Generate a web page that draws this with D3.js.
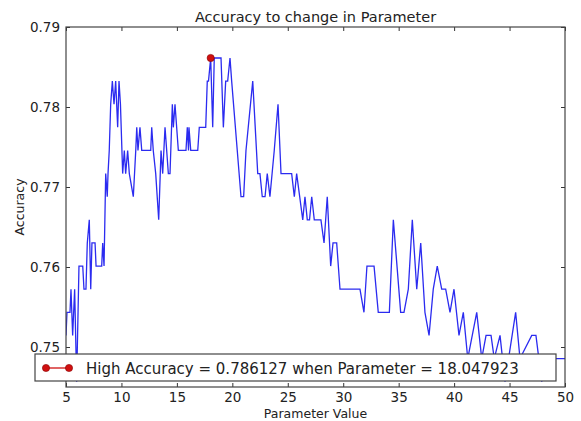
<!DOCTYPE html>
<html>
<head>
<meta charset="utf-8">
<script src="https://cdn.jsdelivr.net/npm/d3@7"></script>
<style>
  body { margin: 0; background: #fff; }
  text { font-family: "DejaVu Sans", sans-serif; fill: #222; }
</style>
</head>
<body>
<script>
// parameter values and the accuracy measured at each one
var params = [5.00, 5.09, 5.36, 5.45, 5.60, 5.78, 5.96, 6.17, 6.51, 6.62, 6.80, 6.92, 7.10, 7.23, 7.34, 7.62,
  7.71, 8.22, 8.31, 8.43, 8.58, 8.72, 8.79, 8.90, 9.03, 9.18, 9.33, 9.48, 9.66, 9.78, 9.91, 10.11,
  10.26, 10.38, 10.56, 10.71, 11.07, 11.29, 11.38, 11.49, 11.67, 11.83, 12.64, 12.73, 12.87, 13.09,
  13.36, 13.57, 13.72, 13.93, 14.23, 14.38, 14.59, 14.68, 14.83, 15.13, 15.82, 15.94, 16.05, 16.09,
  16.25, 16.88, 17.02, 17.60, 17.74, 17.85, 18.047923, 18.23, 18.37, 18.98, 19.19, 19.40, 19.58, 19.79,
  19.94, 20.78, 21.02, 21.23, 21.84, 22.29, 22.49, 22.70, 22.95, 23.15, 23.39, 23.78, 24.12, 24.39,
  25.35, 25.59, 25.80, 26.35, 26.55, 26.76, 26.96, 27.16, 27.39, 27.99, 28.27, 28.56, 28.87, 29.08,
  29.41, 29.71, 31.51, 31.87, 32.14, 32.78, 33.16, 34.16, 34.52, 35.18, 35.48, 35.87, 36.23, 36.63,
  36.99, 37.37, 37.74, 38.12, 38.48, 38.88, 39.24, 39.63, 39.99, 40.44, 40.83, 41.23, 42.04, 42.49,
  42.88, 43.33, 43.62, 44.14, 44.59, 45.55, 45.94, 47.00, 47.38, 47.90, 48.47, 50.00];

var accuracy = [0.751445, 0.754335, 0.754335, 0.757225, 0.751445, 0.757225, 0.745665, 0.760116, 0.760116, 0.757225, 0.757225, 0.763006, 0.765896, 0.757225, 0.763006, 0.763006,
  0.760116, 0.760116, 0.763006, 0.760116, 0.771676, 0.768786, 0.771676, 0.774566, 0.780347, 0.783237, 0.780347, 0.783237, 0.777457, 0.783237, 0.780347, 0.771676,
  0.774566, 0.771676, 0.774566, 0.771676, 0.768786, 0.774566, 0.777457, 0.774566, 0.777457, 0.774566, 0.774566, 0.777457, 0.774566, 0.771676,
  0.765896, 0.774566, 0.771676, 0.777457, 0.771676, 0.771676, 0.780347, 0.777457, 0.780347, 0.774566, 0.774566, 0.777457, 0.774566, 0.777457,
  0.774566, 0.774566, 0.777457, 0.777457, 0.783237, 0.783237, 0.786127, 0.777457, 0.786127, 0.786127, 0.777457, 0.783237, 0.783237, 0.786127,
  0.783237, 0.768786, 0.768786, 0.774566, 0.783237, 0.771676, 0.771676, 0.768786, 0.768786, 0.771676, 0.768786, 0.774566, 0.780347, 0.771676,
  0.771676, 0.768786, 0.771676, 0.765896, 0.768786, 0.765896, 0.765896, 0.768786, 0.765896, 0.765896, 0.763006, 0.768786, 0.760116, 0.763006,
  0.763006, 0.757225, 0.757225, 0.754335, 0.760116, 0.760116, 0.754335, 0.754335, 0.765896, 0.754335, 0.754335, 0.757225, 0.765896, 0.757225,
  0.763006, 0.754335, 0.751445, 0.757225, 0.760116, 0.757225, 0.757225, 0.754335, 0.757225, 0.751445, 0.754335, 0.748555, 0.754335, 0.748555,
  0.751445, 0.751445, 0.748555, 0.751445, 0.745665, 0.754335, 0.748555, 0.751445, 0.751445, 0.745665, 0.748555, 0.748555];

var bestParam = 18.047923;
var bestAccuracy = 0.786127;

var xTicks = [5, 10, 15, 20, 25, 30, 35, 40, 45, 50];
var yTicks = [0.75, 0.76, 0.77, 0.78, 0.79];

var W = 581, H = 421;
var margin = {top: 27, right: 16, bottom: 34, left: 66};
var iw = W - margin.left - margin.right, ih = H - margin.top - margin.bottom;

var svg = d3.select('body').append('svg')
  .attr('width', W)
  .attr('height', H);

var x = d3.scaleLinear().domain([5, 50]).range([0, iw]);
var y = d3.scaleLinear().domain([0.745, 0.79]).range([ih, 0]);

var g = svg.append('g').attr('transform', 'translate(' + margin.left + ',' + margin.top + ')');

var data = params.map(function(p, i) { return {p: p, a: accuracy[i]}; });

g.append('clipPath').attr('id', 'clip')
  .append('rect').attr('width', iw).attr('height', ih);

var line = d3.line()
  .x(function(d) { return x(d.p); })
  .y(function(d) { return y(d.a); });

g.append('path')
  .datum(data)
  .attr('clip-path', 'url(#clip)')
  .attr('d', line)
  .attr('fill', 'none')
  .attr('stroke', '#2b2bf0')
  .attr('stroke-width', 1.3);

g.append('circle')
  .attr('cx', x(bestParam))
  .attr('cy', y(bestAccuracy))
  .attr('r', 3.6)
  .attr('fill', '#d01010')
  .attr('stroke', '#8a0000')
  .attr('stroke-width', 0.6);

// frame with inward ticks on all four sides
var fmt = function(d) { return d; };
var axisB = d3.axisBottom(x).tickValues(xTicks).tickSizeInner(-4).tickSizeOuter(0).tickPadding(5).tickFormat(fmt);
var axisT = d3.axisTop(x).tickValues(xTicks).tickSizeInner(-4).tickSizeOuter(0).tickFormat('');
var axisL = d3.axisLeft(y).tickValues(yTicks).tickSizeInner(-4).tickSizeOuter(0).tickPadding(6).tickFormat(d3.format('.2f'));
var axisR = d3.axisRight(y).tickValues(yTicks).tickSizeInner(-4).tickSizeOuter(0).tickFormat('');

g.append('g').attr('transform', 'translate(0,' + ih + ')').call(axisB);
g.append('g').call(axisT);
g.append('g').call(axisL);
g.append('g').attr('transform', 'translate(' + iw + ',0)').call(axisR);

g.selectAll('.domain').remove();
g.selectAll('.tick line').attr('stroke', '#333');
g.selectAll('.tick text').style('font-family', '"DejaVu Sans", sans-serif').style('font-size', '13.5px').attr('fill', '#333');

g.append('rect')
  .attr('width', iw).attr('height', ih)
  .attr('fill', 'none').attr('stroke', '#444').attr('stroke-width', 1.2);

// titles
svg.append('text')
  .attr('x', margin.left + iw / 2).attr('y', 22)
  .attr('text-anchor', 'middle')
  .style('font-size', '14.5px')
  .text('Accuracy to change in Parameter');

svg.append('text')
  .attr('x', margin.left + iw / 2).attr('y', 418)
  .attr('text-anchor', 'middle')
  .style('font-size', '12.5px')
  .text('Parameter Value');

svg.append('text')
  .attr('transform', 'translate(24,' + (margin.top + ih / 2) + ') rotate(-90)')
  .attr('text-anchor', 'middle')
  .style('font-size', '12.5px')
  .text('Accuracy');

// legend
var lg = svg.append('g').attr('transform', 'translate(35,354)');
lg.append('rect')
  .attr('width', 521).attr('height', 27)
  .attr('fill', '#fff').attr('stroke', '#444').attr('stroke-width', 1.2);
lg.append('line')
  .attr('x1', 11).attr('x2', 34).attr('y1', 14).attr('y2', 14)
  .attr('stroke', '#d01010').attr('stroke-width', 1.3);
lg.selectAll('circle.m').data([11, 34]).enter().append('circle')
  .attr('class', 'm')
  .attr('cx', function(d) { return d; }).attr('cy', 14).attr('r', 3.6)
  .attr('fill', '#d01010').attr('stroke', '#8a0000').attr('stroke-width', 0.6);
lg.append('text')
  .attr('x', 51).attr('y', 19.5)
  .style('font-size', '15px')
  .text('High Accuracy = ' + bestAccuracy.toFixed(6) + ' when Parameter = ' + bestParam.toFixed(6));
</script>
</body>
</html>
